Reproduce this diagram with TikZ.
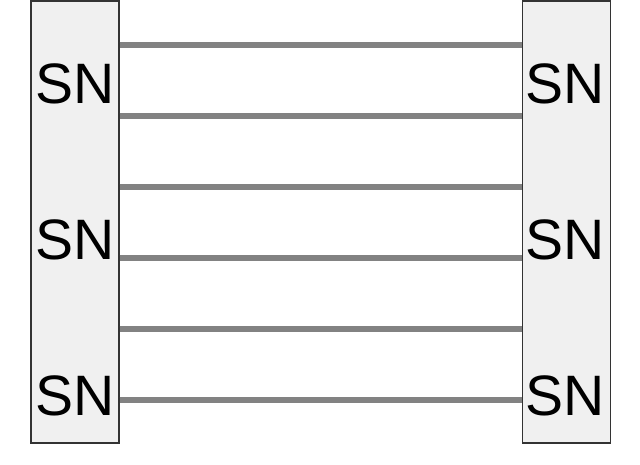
\documentclass[tikz,border=0pt]{standalone}
\usepackage{fontspec}
\setmainfont{Liberation Sans}
\usetikzlibrary{positioning}

\definecolor{boxfill}{HTML}{F0F0F0}
\definecolor{boxline}{HTML}{333333}
\definecolor{wiregray}{HTML}{828282}

\tikzset{
  snbox/.style={draw=boxline, fill=boxfill, line width=1.3pt, inner sep=0pt,
                minimum width=88pt, minimum height=442pt},
  sntext/.style={inner sep=0pt, font=\fontsize{57}{60}\selectfont},
  link/.style={draw=wiregray, line width=5.5pt}
}

\begin{document}
\begin{tikzpicture}[x=1pt,y=1pt]
                \useasboundingbox (0,0) rectangle (640,-464);
                
                \node[snbox] (lbox) at (75,-222) {};
                \node[snbox, right=402pt of lbox] (rbox) {};
                
                \node[sntext] (ltop) at (75,-84) {SN};
                \node[sntext] (lmid) at (75,-240) {SN};
                \node[sntext] (lbot) at (75,-396) {SN};
                
                \node[sntext] (rtop) at (565,-84) {SN};
                \node[sntext] (rmid) at (565,-240) {SN};
                \node[sntext] (rbot) at (565,-396) {SN};
                
                \foreach \y in {45,116,187,258,329,400}
                    \draw[link] (lbox.east |- 0,-\y) -- (rbox.west |- 0,-\y);
            \end{tikzpicture}
\end{document}
